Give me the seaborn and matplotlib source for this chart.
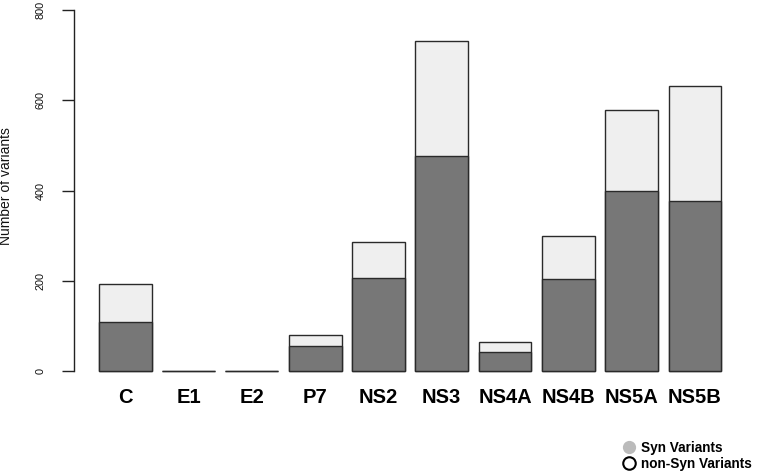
import matplotlib
matplotlib.use("Agg")
import matplotlib.pyplot as plt
from matplotlib.lines import Line2D
import seaborn as sns
import pandas as pd

genes = ["C", "E1", "E2", "P7", "NS2", "NS3", "NS4A", "NS4B", "NS5A", "NS5B"]
syn_variants = [109, 0, 0, 56, 205, 477, 41, 204, 399, 377]
nonsyn_variants = [84, 0, 0, 23, 80, 255, 23, 96, 180, 255]
y_ticks = [0, 200, 400, 600, 800]

totals = [s + n for s, n in zip(syn_variants, nonsyn_variants)]
df = pd.DataFrame({"gene": genes, "syn": syn_variants, "total": totals})

sns.set_theme(style="white")
plt.rcParams["font.family"] = ["Liberation Sans", "DejaVu Sans"]

fig = plt.figure(figsize=(7.62, 4.75), dpi=100)
ax = fig.add_axes([74 / 762, 1 - 371 / 475, (746.2 - 74) / 762, 361 / 475])

bw = 1 / 1.2
edge = "#2a2a2a"
sns.barplot(data=df, x="gene", y="total", order=genes, color="#efefef",
            width=bw, edgecolor=edge, linewidth=1.0, saturation=1, ax=ax)
sns.barplot(data=df, x="gene", y="syn", order=genes, color="#777777",
            width=bw, edgecolor=edge, linewidth=1.0, saturation=1, ax=ax)
for p in ax.patches:
    p.set_clip_on(False)

ax.set_xlim(-0.81, 9.81)
ax.set_ylim(0, 800)
for s in ["top", "right", "bottom"]:
    ax.spines[s].set_visible(False)
ax.spines["left"].set_color("#222222")
ax.spines["left"].set_linewidth(1.0)
ax.spines["left"].set_bounds(0, 800)

ax.set_yticks(y_ticks)
ax.set_yticklabels([str(t) for t in y_ticks], rotation=90, va="center",
                   fontsize=7.8, color="#111111")
ax.tick_params(axis="y", direction="out", length=8.6, width=1.0, color="#222222",
               left=True, pad=12)
ax.tick_params(axis="x", length=0, pad=12)
for lab in ax.get_xticklabels():
    lab.set_fontweight("bold")
    lab.set_fontsize(14.5)
    lab.set_color("#000000")

ax.set_xlabel("")
ax.set_ylabel("Number of variants", fontsize=10, color="#111111")
ax.yaxis.set_label_coords((13 - 74) / 672.2, (371 - 186) / 361)

handles = [
    Line2D([], [], marker="o", linestyle="none", markersize=8.5,
           markerfacecolor="#bbbbbb", markeredgecolor="#bbbbbb"),
    Line2D([], [], marker="o", linestyle="none", markersize=9,
           markerfacecolor="none", markeredgecolor="#000000", markeredgewidth=1.5),
]
leg = fig.legend(handles, ["Syn Variants", "non-Syn Variants"],
                 loc="upper left", bbox_to_anchor=(620 / 762, 1 - 441 / 475),
                 frameon=False, handletextpad=0.2, labelspacing=0.15,
                 handlelength=1.2, borderaxespad=0, borderpad=0)
for t in leg.get_texts():
    t.set_fontweight("bold")
    t.set_fontsize(9.8)
    t.set_color("#000000")

fig.savefig("out.png", dpi=100)
